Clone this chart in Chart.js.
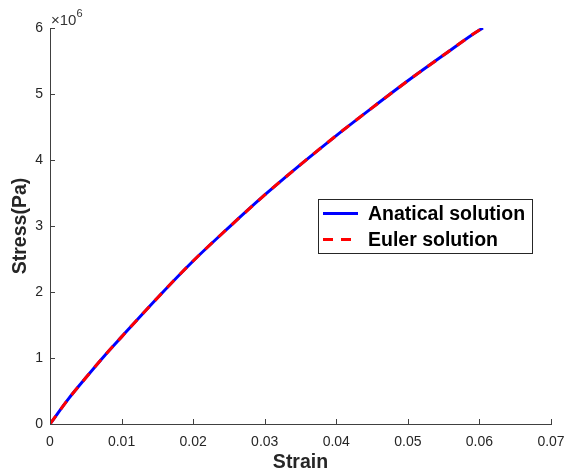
<!DOCTYPE html>
<html>
<head>
<meta charset="utf-8">
<title>Stress / Strain</title>
<script src="https://cdn.jsdelivr.net/npm/chart.js@4.4.1/dist/chart.umd.min.js"></script>
<style>
  html, body { margin: 0; padding: 0; background: #fff; }
  #wrap { width: 564px; height: 476px; position: relative; }
</style>
</head>
<body>
<div id="wrap"><canvas id="chartStress"></canvas></div>
<script>
  // values (stress in Pa)
  var strain = [0, 0.0025, 0.005, 0.0075, 0.01, 0.015, 0.02, 0.025, 0.03, 0.035, 0.04, 0.045, 0.05, 0.055, 0.06, 0.0605];
  var stressAnalytical = [0, 0.37e6, 0.70e6, 1.02e6, 1.32e6, 1.91e6, 2.47e6, 2.98e6, 3.47e6, 3.93e6, 4.37e6, 4.79e6, 5.20e6, 5.59e6, 5.97e6, 6.00e6];
  var stressEuler = [0, 0.37e6, 0.70e6, 1.02e6, 1.32e6, 1.91e6, 2.47e6, 2.98e6, 3.47e6, 3.93e6, 4.37e6, 4.79e6, 5.20e6, 5.59e6, 5.97e6, 6.00e6];
  var xTicks = [0, 0.01, 0.02, 0.03, 0.04, 0.05, 0.06, 0.07];
  var yTicks = [0, 1e6, 2e6, 3e6, 4e6, 5e6, 6e6];
  var seriesNames = ["Anatical solution", "Euler solution"];

  function toPoints(xs, ys) {
    return xs.map(function (x, i) { return { x: x, y: ys[i] }; });
  }

  var axisColor = "#404040";
  var textColor = "#262626";
  var fontFamily = "'Liberation Sans', Arial, Helvetica, sans-serif";

  // MATLAB style: ticks pointing inside, exponent label, boxed legend
  var matlabBits = {
    id: "matlabBits",
    afterDraw: function (chart) {
      var ctx = chart.ctx, area = chart.chartArea;
      var xs = chart.scales.x, ys = chart.scales.y;
      ctx.save();
      ctx.strokeStyle = axisColor;
      ctx.lineWidth = 1;
      ctx.beginPath();
      xTicks.forEach(function (v) {
        var px = Math.round(xs.getPixelForValue(v)) + 0.5;
        ctx.moveTo(px, area.bottom);
        ctx.lineTo(px, area.bottom - 5);
      });
      yTicks.forEach(function (v) {
        var py = Math.round(ys.getPixelForValue(v)) + 0.5;
        ctx.moveTo(area.left, py);
        ctx.lineTo(area.left + 5, py);
      });
      ctx.stroke();

      // x10^6
      ctx.fillStyle = "#333";
      ctx.textBaseline = "alphabetic";
      ctx.textAlign = "left";
      ctx.font = "15px " + fontFamily;
      ctx.fillText("\u00d710", area.left + 1, area.top - 3);
      var w = ctx.measureText("\u00d710").width;
      ctx.font = "11px " + fontFamily;
      ctx.fillText("6", area.left + 1 + w, area.top - 11);

      // legend
      var bx = 318.5, by = 199.5, bw = 214, bh = 54;
      ctx.fillStyle = "#fff";
      ctx.fillRect(bx, by, bw, bh);
      ctx.strokeStyle = "#262626";
      ctx.strokeRect(bx, by, bw, bh);
      var rows = [213.5, 239.5];
      chart.data.datasets.forEach(function (ds, i) {
        ctx.beginPath();
        ctx.strokeStyle = ds.borderColor;
        ctx.lineWidth = ds.borderWidth;
        ctx.setLineDash(ds.borderDash || []);
        ctx.moveTo(323, rows[i]);
        ctx.lineTo(358, rows[i]);
        ctx.stroke();
        ctx.setLineDash([]);
        ctx.fillStyle = "#000";
        ctx.font = "bold 19.5px " + fontFamily;
        ctx.textBaseline = "middle";
        ctx.fillText(ds.label, 368, rows[i] + 1);
      });
      ctx.restore();
    }
  };

  var chartStress = new Chart(document.getElementById("chartStress"), {
    type: "line",
    data: {
      datasets: [
        {
          label: seriesNames[0],
          data: toPoints(strain, stressAnalytical),
          borderColor: "#0000ff",
          borderWidth: 3,
          pointRadius: 0,
          cubicInterpolationMode: "monotone",
          order: 1
        },
        {
          label: seriesNames[1],
          data: toPoints(strain, stressEuler),
          borderColor: "#ff0000",
          borderWidth: 3,
          borderDash: [10, 8],
          pointRadius: 0,
          cubicInterpolationMode: "monotone",
          order: 0
        }
      ]
    },
    options: {
      responsive: true,
      maintainAspectRatio: false,
      animation: false,
      layout: { padding: { top: 28, right: 13, left: 0, bottom: 0 } },
      plugins: { legend: { display: false }, tooltip: { enabled: false } },
      scales: {
        x: {
          type: "linear",
          min: 0,
          max: 0.07,
          afterBuildTicks: function (s) { s.ticks = xTicks.map(function (v) { return { value: v }; }); },
          afterFit: function (s) { s.height = 52; s.paddingRight = 0; s.paddingLeft = 0; },
          grid: { display: false, drawTicks: false },
          border: { display: true, color: axisColor, width: 1 },
          ticks: {
            padding: 10,
            color: textColor,
            font: { family: fontFamily, size: 14 },
            maxRotation: 0,
            callback: function (v) { return v === 0 ? "0" : (+v).toFixed(2); }
          },
          title: {
            display: true,
            text: "Strain",
            color: "#262626",
            font: { family: fontFamily, size: 19.5, weight: "bold" },
            padding: { top: 0, bottom: 2 }
          }
        },
        y: {
          min: 0,
          max: 6e6,
          afterBuildTicks: function (s) { s.ticks = yTicks.map(function (v) { return { value: v }; }); },
          afterFit: function (s) { s.width = 50; s.paddingTop = 0; s.paddingBottom = 0; },
          grid: { display: false, drawTicks: false },
          border: { display: true, color: axisColor, width: 1 },
          ticks: {
            padding: 7,
            color: textColor,
            font: { family: fontFamily, size: 14 },
            callback: function (v) { return String(Math.round(v / 1e6)); }
          },
          title: {
            display: true,
            text: "Stress(Pa)",
            color: "#262626",
            font: { family: fontFamily, size: 19.5, weight: "bold" },
            padding: { top: 9, bottom: 0 }
          }
        }
      }
    },
    plugins: [matlabBits]
  });
</script>
</body>
</html>
